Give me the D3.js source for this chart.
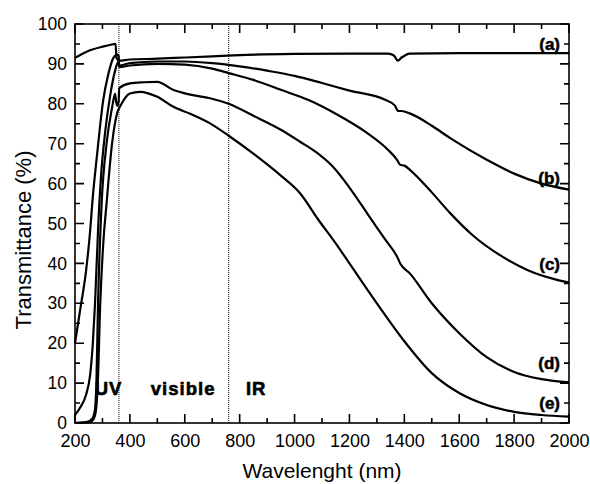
<!DOCTYPE html>
<html>
<head>
<meta charset="utf-8">
<script src="https://cdn.jsdelivr.net/npm/d3@7"></script>
<style>
  body { margin: 0; background: #fff; }
  svg text { font-family: "Liberation Sans", Arial, sans-serif; fill: #000; }
</style>
</head>
<body>
<svg width="590" height="484"></svg>
<script>
// spectra, [wavelength nm, transmittance %]
const curveA = [[200,91.5],[250,93.3],[300,94.3],[330,94.8],[348,95.0],[351,91.5],[360,90.8],[400,91.1],[500,91.3],[600,91.6],[700,91.9],[800,92.2],[1000,92.5],[1200,92.6],[1340,92.6],[1362,92.1],[1376,90.8],[1390,91.6],[1420,92.6],[1600,92.7],[2000,92.7]];
const curveB = [[200,20],[218,28],[240,38],[255,48],[264,56],[280,67],[303,81],[320,87],[340,91.5],[355,92.3],[359,92],[361,89.6],[400,90.2],[500,90.6],[600,90.6],[700,90.2],[800,89.4],[900,88.3],[1000,87],[1100,85.2],[1200,83.3],[1330,81],[1365,79.6],[1378,78.2],[1390,78.2],[1420,77.6],[1500,74.5],[1567,71.4],[1700,66],[1800,62.5],[1900,60],[2000,58.5]];
const curveC = [[200,2],[220,4],[240,7],[255,12],[265,20],[273,30],[285,50],[295,62],[310,73],[328,82],[345,88],[358,90.5],[361,89.2],[400,89.6],[500,90],[600,89.8],[700,88.8],[760,87.7],[850,86],[950,83.5],[1049,81],[1150,77.5],[1264,72.7],[1340,68.5],[1374,65.9],[1385,64.7],[1400,64.5],[1421,63.4],[1500,57.8],[1567,52.6],[1650,47],[1750,42],[1850,38.3],[1950,36],[2000,35.2]];
const curveD = [[200,0],[240,0.2],[262,1],[272,3],[278,10],[284,30],[297,55],[315,70],[335,79],[346,82.5],[350,80.5],[354,79.5],[359,80.5],[361,83.9],[400,85.1],[450,85.4],[500,85.5],[557,83.5],[620,82.3],[692,81.4],[760,80],[850,77],[950,73.5],[1020,70.5],[1080,67.8],[1140,64.2],[1200,59],[1264,52.6],[1330,46],[1375,41.5],[1385,40],[1420,37.5],[1500,30],[1600,22.5],[1700,16.5],[1800,12.8],[1900,11],[2000,10.2]];
const curveE = [[200,0],[255,0.2],[268,1],[276,3],[283,10],[292,30],[303,45],[315,55],[335,70],[355,78],[364,79.3],[400,82.6],[437,83],[498,81.8],[557,79.3],[620,77.5],[692,75.1],[760,72],[850,67.5],[950,62],[1020,57.6],[1086,51],[1150,45],[1200,40],[1300,30],[1400,20.5],[1500,12.5],[1600,7.5],[1700,4.5],[1800,2.8],[1900,2],[2000,1.6]];

const seriesNames = ['(a)', '(b)', '(c)', '(d)', '(e)'];
const seriesLabelAt = [95, 61.5, 40, 15, 5];   // % level of each label on the right side

const regionLines = [360, 760];
const regionNames = ['UV', 'visible', 'IR'];
const regionLabelAt = [322, 594, 860];

const xMajor = d3.range(200, 2001, 200);
const xMinor = d3.range(300, 2000, 200);
const yMajor = d3.range(0, 101, 10);
const yMinor = d3.range(5, 100, 10);

const svg = d3.select('svg');
const margin = {left: 75, top: 24, right: 21, bottom: 61};
const W = 590 - margin.left - margin.right;
const H = 484 - margin.top - margin.bottom;

const x = d3.scaleLinear().domain([200, 2000]).range([0, W]);
const y = d3.scaleLinear().domain([0, 100]).range([H, 0]);

const g = svg.append('g')
    .attr('transform', `translate(${margin.left},${margin.top})`);

// tick labels through the axis generators
const styleAxis = (sel, fontSize) => {
    sel.select('.domain').remove();
    sel.selectAll('.tick line').remove();
    sel.selectAll('.tick text').attr('font-size', fontSize).attr('fill', '#000')
        .style('font-family', '"Liberation Sans", Arial, sans-serif');
};

g.append('g').attr('transform', `translate(0,${H})`)
    .call(d3.axisBottom(x).tickValues(xMajor).tickSize(0).tickPadding(11).tickFormat(d3.format('d')))
    .call(s => styleAxis(s, 18));
g.append('g')
    .call(d3.axisLeft(y).tickValues(yMajor).tickSize(0).tickPadding(8).tickFormat(d3.format('d')))
    .call(s => styleAxis(s, 17.5));

// dotted region boundaries
g.selectAll('.region-line')
    .data(regionLines)
    .join('line')
        .attr('class', 'region-line')
        .attr('x1', d => x(d)).attr('x2', d => x(d))
        .attr('y1', 0).attr('y2', H)
        .attr('stroke', '#000')
        .attr('stroke-width', 1)
        .attr('stroke-dasharray', '1,1');

g.selectAll('.region-label')
    .data(regionNames)
    .join('text')
        .attr('class', 'region-label')
        .attr('x', (d, i) => x(regionLabelAt[i]))
        .attr('y', y(7))
        .attr('text-anchor', 'middle')
        .attr('font-size', 18.5)
        .attr('font-weight', 'bold')
        .attr('stroke', '#000')
        .attr('stroke-width', 0.6)
        .attr('letter-spacing', 1)
        .text(d => d);

// spectra
const line = d3.line()
    .x(d => x(d[0]))
    .y(d => y(d[1]))
    .curve(d3.curveMonotoneX);

g.selectAll('.spectrum')
    .data([curveA, curveB, curveC, curveD, curveE])
    .join('path')
        .attr('class', 'spectrum')
        .attr('fill', 'none')
        .attr('stroke', '#000')
        .attr('stroke-width', 2.2)
        .attr('stroke-linejoin', 'round')
        .attr('d', line);

g.selectAll('.series-label')
    .data(seriesNames)
    .join('text')
        .attr('class', 'series-label')
        .attr('x', W - 9)
        .attr('y', (d, i) => y(seriesLabelAt[i]))
        .attr('dy', '0.36em')
        .attr('text-anchor', 'end')
        .attr('font-size', 17)
        .attr('font-weight', 'bold')
        .attr('stroke', '#000')
        .attr('stroke-width', 0.5)
        .text(d => d);

// frame
g.append('rect')
    .attr('width', W).attr('height', H)
    .attr('fill', 'none')
    .attr('stroke', '#000')
    .attr('stroke-width', 1.6);

// inward tick marks on all four sides, one path per side
const majorLen = 9, minorLen = 5;
const xTicks = xMajor.map(v => [v, majorLen]).concat(xMinor.map(v => [v, minorLen]));
const yTicks = yMajor.map(v => [v, majorLen]).concat(yMinor.map(v => [v, minorLen]));

const tickPath = [
    xTicks.map(([v, l]) => `M${x(v)},${H}V${H - l}`).join(''),
    xTicks.map(([v, l]) => `M${x(v)},0V${l}`).join(''),
    yTicks.map(([v, l]) => `M0,${y(v)}H${l}`).join(''),
    yTicks.map(([v, l]) => `M${W},${y(v)}H${W - l}`).join('')
];

g.selectAll('.tick-marks')
    .data(tickPath)
    .join('path')
        .attr('class', 'tick-marks')
        .attr('fill', 'none')
        .attr('stroke', '#000')
        .attr('stroke-width', 1.6)
        .attr('d', d => d);

// axis titles
svg.append('text')
    .attr('x', margin.left + W / 2)
    .attr('y', 478)
    .attr('text-anchor', 'middle')
    .attr('font-size', 21)
    .text('Wavelenght (nm)');

svg.append('text')
    .attr('transform', 'translate(31,240) rotate(-90)')
    .attr('text-anchor', 'middle')
    .attr('font-size', 22)
    .text('Transmittance (%)');
</script>
</body>
</html>
